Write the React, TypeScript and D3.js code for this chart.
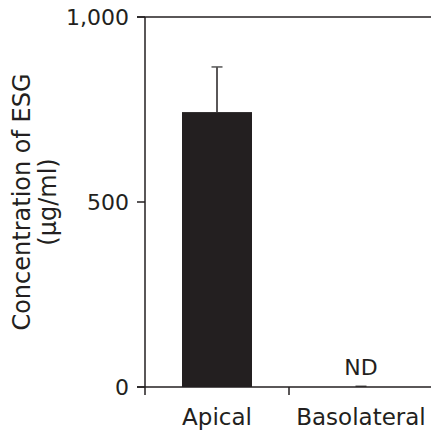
import React from "react";
import * as d3 from "d3";

const categories = ["Apical", "Basolateral"];
const means = [743, 0];
const errors = [122, 2];
const yTicks = [0, 500, 1000];
const notDetected = [false, true];

const W = 431;
const H = 431;
const axisColor = "#231f20";
const barColor = "#231f20";
const font = "DejaVu Sans, Verdana, sans-serif";

export default function App() {
  const y = d3.scaleLinear().domain([0, 1000]).range([387, 17]);
  const x = d3.scaleBand<string>().domain(categories).range([145, 433]).padding(0);
  const bw = x.bandwidth() * 0.486;
  const fmt = d3.format(",");
  const xEnd = W;

  return (
    <svg width={W} height={H} style={{ position: "absolute", left: 0, top: 0, background: "#fff" }}>
      {/* bars */}
      {categories.map((c, i) => {
        const cx = (x(c) as number) + x.bandwidth() / 2;
        return (
          <g key={c}>
            {means[i] > 0 && (
              <rect x={cx - bw / 2} y={y(means[i])} width={bw} height={y(0) - y(means[i])} fill={barColor} />
            )}
            <line x1={cx} x2={cx} y1={y(means[i])} y2={y(means[i] + errors[i])} stroke={axisColor} strokeWidth={1.5} />
            <line x1={cx - 5.5} x2={cx + 5.5} y1={y(means[i] + errors[i])} y2={y(means[i] + errors[i])} stroke="#555" strokeWidth={1.5} />
            {notDetected[i] && (
              <text x={cx} y={375} textAnchor="middle" fontFamily={font} fontSize={22} fill={axisColor}>ND</text>
            )}
            <text x={cx} y={425} textAnchor="middle" fontFamily={font} fontSize={23} fill={axisColor}>{c}</text>
          </g>
        );
      })}
      {/* axes */}
      <line x1={145} x2={145} y1={y(1000)} y2={395} stroke={axisColor} strokeWidth={1.5} />
      <line x1={137} x2={xEnd} y1={y(0)} y2={y(0)} stroke={axisColor} strokeWidth={1.5} />
      <line x1={137} x2={xEnd} y1={y(1000)} y2={y(1000)} stroke={axisColor} strokeWidth={1.5} />
      {yTicks.map((t) => (
        <g key={t}>
          <line x1={137} x2={145} y1={y(t)} y2={y(t)} stroke={axisColor} strokeWidth={1.5} />
          <text x={129} y={y(t)} dy="0.36em" textAnchor="end" fontFamily={font} fontSize={22} fill={axisColor}>{fmt(t)}</text>
        </g>
      ))}
      {categories.map((c) => (
        <line key={c} x1={(x(c) as number) + x.bandwidth()} x2={(x(c) as number) + x.bandwidth()} y1={y(0)} y2={395} stroke={axisColor} strokeWidth={1.5} />
      ))}
      {/* y title */}
      <g transform={`translate(0, ${y(500)}) rotate(-90)`}>
        <text x={0} y={30} textAnchor="middle" fontFamily={font} fontSize={24} fill={axisColor}>Concentration of ESG</text>
        <text x={0} y={56} textAnchor="middle" fontFamily={font} fontSize={24} fill={axisColor}>(μg/ml)</text>
      </g>
    </svg>
  );
}
